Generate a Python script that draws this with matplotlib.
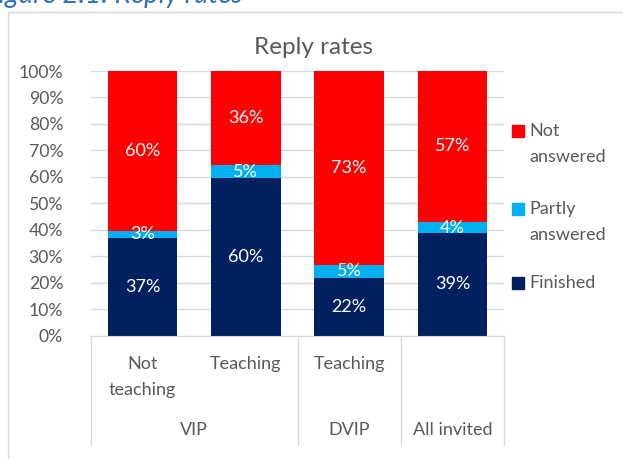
import numpy as np
import matplotlib
matplotlib.use('Agg')
import matplotlib.pyplot as plt
from matplotlib.patches import Rectangle

plt.rcParams['font.family'] = ['Lato', 'DejaVu Sans']

# data (percent)
sub_labels = ['Not\nteaching', 'Teaching', 'Teaching', '']
group_labels = ['VIP', 'DVIP', 'All invited']
group_spans = [(0, 1), (2, 2), (3, 3)]
finished = [36.8, 59.5, 21.9, 38.6]
partly = [2.8, 5.0, 4.7, 4.4]
not_answered = [60.4, 35.5, 73.4, 57.0]
y_ticks = [0, 10, 20, 30, 40, 50, 60, 70, 80, 90, 100]

series = [('Finished', finished, '#002060'),
          ('Partly\nanswered', partly, '#00B0F0'),
          ('Not\nanswered', not_answered, '#FF0000')]

W, H = 623, 459
gray = '#595959'
light = '#D9D9D9'
fs = 13

fig = plt.figure(figsize=(W / 100, H / 100), dpi=100)

def fx(px):
    return px / W

def fy(py):
    return 1 - py / H

# chart border and cut-off caption
fig.patches.append(Rectangle((fx(8), fy(470)), fx(700), fy(12) - fy(470),
                             transform=fig.transFigure, fill=False,
                             edgecolor=light, lw=1))
fig.text(fx(-16), fy(3), 'Figure 2.1: Reply rates', color='#2E75B6',
         fontsize=20, style='italic', va='baseline', ha='left')

x0, x1, y0, y1 = 91, 504, 335.5, 71
ax = fig.add_axes([fx(x0), fy(y0), fx(x1 - x0), fy(y1) - fy(y0)])

x = np.arange(len(finished))
bottom = np.zeros(len(x))
for name, vals, col in series:
    bars = ax.bar(x, vals, 0.675, bottom=bottom, color=col, zorder=2)
    for b, v in zip(bars, vals):
        ax.text(b.get_x() + b.get_width() / 2, b.get_y() + v / 2,
                '{:.0f}%'.format(v), ha='center', va='center',
                color='white', fontsize=fs, zorder=3)
    bottom += np.array(vals)

ax.set_xlim(-0.5, len(x) - 0.5)
ax.set_ylim(0, 100)
ax.set_yticks(y_ticks)
ax.set_yticklabels(['%d%%' % t for t in y_ticks])
ax.tick_params(axis='y', length=0, pad=20, labelsize=fs - 0.3, labelcolor=gray)
ax.set_xticks([])
ax.yaxis.grid(True, color=light, lw=1, zorder=0)
for s in ['top', 'right', 'left']:
    ax.spines[s].set_visible(False)
ax.spines['bottom'].set_color(light)

# multi-level category axis
tr = ax.get_xaxis_transform()
ph = y0 - y1
for i, lab in enumerate(sub_labels):
    ax.text(i, -(356 - y0) / ph, lab, transform=tr, ha='center', va='top',
            multialignment='center', fontsize=fs, color=gray, linespacing=1.8)
for lab, (a, b) in zip(group_labels, group_spans):
    ax.text((a + b) / 2, -(430 - y0) / ph, lab, transform=tr, ha='center',
            va='center', fontsize=fs, color=gray)
for xs in [-0.5, 1.5, 2.5, 3.5]:
    ax.plot([xs, xs], [0, -(445 - y0) / ph], transform=tr, color=light,
            lw=1, clip_on=False)

# title
fig.text(fx(313), fy(54), 'Reply rates', ha='center', va='baseline',
         fontsize=17.5, color=gray)

# legend
for (name, vals, col), yc in zip(series[::-1], [131, 209, 283]):
    fig.patches.append(Rectangle((fx(512), fy(yc + 6)), fx(12), fy(yc - 6) - fy(yc + 6),
                                 transform=fig.transFigure, color=col))
    for k, line in enumerate(name.split('\n')):
        fig.text(fx(529), fy(yc + 26 * k), line, ha='left', va='center',
                 fontsize=fs, color=gray)

fig.savefig('out.png', dpi=100)
